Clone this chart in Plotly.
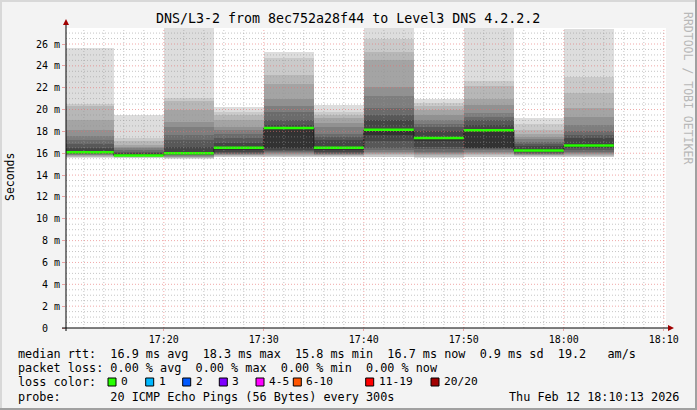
import plotly.graph_objects as go
from datetime import datetime, timedelta

# --- data (ms) ---
bar_end = ["17:15", "17:20", "17:25", "17:30", "17:35", "17:40",
           "17:45", "17:50", "17:55", "18:00", "18:05"]
median_ms = [16.1, 15.8, 16.0, 16.5, 18.3, 16.5, 18.15, 17.4, 18.1, 16.25, 16.7]
# 20 sorted pings per 5-minute step
pings_ms = [
    [15.6, 15.65, 15.7, 15.75, 15.8, 15.85, 15.9, 15.95, 16.0, 16.05, 16.2, 16.5, 16.8, 17.2, 17.6, 18.1, 19.0, 20.3, 20.5, 25.6],
    [15.55, 15.6, 15.65, 15.7, 15.72, 15.75, 15.78, 15.8, 15.82, 15.85, 15.9, 16.0, 16.15, 16.3, 16.45, 16.6, 16.75, 17.1, 17.4, 19.5],
    [15.5, 15.55, 15.6, 15.65, 15.7, 15.75, 15.8, 15.85, 15.9, 15.95, 16.1, 16.6, 17.2, 17.7, 18.4, 18.9, 20.0, 20.8, 21.1, 28.5],
    [15.65, 15.7, 15.75, 15.8, 15.85, 15.9, 15.95, 16.0, 16.1, 16.3, 16.6, 16.9, 17.4, 17.8, 18.1, 18.4, 19.0, 19.5, 19.8, 20.2],
    [15.65, 15.7, 15.75, 15.8, 15.9, 16.0, 16.1, 16.2, 16.3, 16.5, 18.35, 18.6, 19.0, 19.8, 20.3, 21.0, 22.3, 23.2, 24.7, 25.3],
    [15.65, 15.7, 15.75, 15.8, 15.85, 15.9, 15.95, 16.0, 16.1, 16.3, 16.6, 17.2, 17.5, 17.8, 18.4, 18.8, 19.2, 19.5, 19.8, 20.4],
    [15.65, 15.7, 15.8, 15.9, 16.0, 16.15, 16.3, 16.45, 17.1, 17.7, 18.2, 19.0, 19.5, 20.1, 21.2, 22.1, 24.5, 25.3, 26.5, 29.0],
    [15.6, 15.65, 15.7, 15.8, 15.9, 16.0, 16.15, 16.4, 16.6, 17.1, 17.5, 18.0, 18.4, 18.7, 19.0, 19.5, 20.0, 20.3, 20.6, 21.0],
    [15.65, 15.7, 15.8, 15.9, 16.0, 16.15, 16.3, 16.4, 16.45, 16.5, 18.15, 18.6, 19.0, 19.3, 19.65, 20.4, 21.0, 22.2, 22.6, 29.0],
    [15.65, 15.7, 15.75, 15.8, 15.85, 15.9, 15.95, 16.0, 16.1, 16.2, 16.4, 16.65, 16.85, 17.05, 17.3, 17.5, 17.8, 18.1, 18.7, 19.2],
    [15.65, 15.7, 15.75, 15.8, 15.9, 16.0, 16.15, 16.3, 16.5, 16.6, 16.8, 17.4, 17.7, 18.0, 18.6, 19.3, 20.1, 21.5, 23.0, 27.4],
]
loss_labels = ["0", "1", "2", "3", "4-5", "6-10", "11-19", "20/20"]
loss_colors = ["#26ff00", "#00b8ff", "#0059ff", "#7e00ff", "#ff00ff", "#ff5500", "#ff0000", "#a10000"]

title = "DNS/L3-2 from 8ec752a28f44 to Level3 DNS 4.2.2.2"
legend_lines = [
    "median rtt:  16.9 ms avg  18.3 ms max  15.8 ms min  16.7 ms now  0.9 ms sd  19.2   am/s",
    "packet loss: 0.00 % avg  0.00 % max  0.00 % min  0.00 % now",
    "loss color:",
    "probe:       20 ICMP Echo Pings (56 Bytes) every 300s",
]
stamp = "Thu Feb 12 18:10:13 2026"

# --- geometry ---
W, H = 697, 410
L, R, T, B = 66, 31, 28, 82
PW, PH = W - L - R, H - T - B
FONT = "DejaVu Sans Mono"


def px_x(px):
    return (px - L) / PW


def px_y(py):
    return 1 - (py - T) / PH


day = "2026-02-12 "
ends = [datetime.fromisoformat(day + t) for t in bar_end]
step = timedelta(minutes=5)
centers = [e - step / 2 for e in ends]

fig = go.Figure()

# smoke: band i spans ping[i]..ping[19-i], darker towards the middle
half = 10
for i in range(half):
    g = int(190 / half * (half - (i + 1))) + 50
    col = "#%02x%02x%02x" % (g, g, g)
    fig.add_trace(go.Bar(
        x=centers,
        base=[p[i] for p in pings_ms],
        y=[p[19 - i] - p[i] for p in pings_ms],
        width=step.total_seconds() * 1000,
        marker=dict(color=col, line=dict(width=0)),
        hoverinfo="skip", showlegend=False,
    ))

# median: dark step line + green per-step segments
fig.add_trace(go.Scatter(
    x=[e - step for e in ends] + [ends[-1]],
    y=median_ms + [median_ms[-1]],
    mode="lines", line=dict(color="#202020", width=1, shape="hv"),
    hoverinfo="skip", showlegend=False,
))
gx, gy = [], []
for e, m in zip(ends, median_ms):
    gx += [e - step, e, None]
    gy += [m, m, None]
fig.add_trace(go.Scatter(x=gx, y=gy, mode="lines",
                         line=dict(color=loss_colors[0], width=2.5),
                         hoverinfo="skip", showlegend=False))

# grid drawn above the smoke, like rrdtool
shapes = []
minor_c = "rgba(150,150,150,0.55)"
major_c = "rgba(230,110,110,0.6)"
t0 = datetime.fromisoformat(day + "17:10:13")
t1 = datetime.fromisoformat(day + "18:10:13")
t = datetime.fromisoformat(day + "17:12")
while t <= t1:
    major = t.minute % 10 == 0
    shapes.append(dict(type="line", xref="x", yref="paper", x0=t, x1=t, y0=0, y1=1,
                       line=dict(color=major_c if major else minor_c, width=1, dash="1px,2px"),
                       layer="above"))
    t += timedelta(minutes=2)
for k in range(1, 55):
    v = k * 0.5
    major = k % 4 == 0
    shapes.append(dict(type="line", xref="paper", yref="y", x0=0, x1=1, y0=v, y1=v,
                       line=dict(color=major_c if major else minor_c, width=1, dash="1px,2px"),
                       layer="above"))

# axes with arrows
shapes.append(dict(type="line", xref="paper", yref="paper", x0=px_x(62), x1=px_x(669),
                   y0=0, y1=0, line=dict(color="black", width=1), layer="above"))
shapes.append(dict(type="line", xref="paper", yref="paper", x0=0, x1=0,
                   y0=px_y(331), y1=px_y(24), line=dict(color="black", width=1), layer="above"))
shapes.append(dict(type="path", xref="paper", yref="paper", xsizemode="pixel", ysizemode="pixel",
                   xanchor=0, yanchor=px_y(24), path="M -3 -1 L 3 -1 L 0 5 Z",
                   fillcolor="#a00000", line=dict(width=0), layer="above"))
shapes.append(dict(type="path", xref="paper", yref="paper", xsizemode="pixel", ysizemode="pixel",
                   xanchor=px_x(668), yanchor=0, path="M 0 -3 L 0 3 L 6 0 Z",
                   fillcolor="#a00000", line=dict(width=0), layer="above"))

# outer 3d frame
shapes += [
    dict(type="line", xref="paper", yref="paper", x0=px_x(0), x1=px_x(W), y0=px_y(1), y1=px_y(1),
         line=dict(color="#d8d8d8", width=2)),
    dict(type="line", xref="paper", yref="paper", x0=px_x(1), x1=px_x(1), y0=px_y(0), y1=px_y(H),
         line=dict(color="#d8d8d8", width=2)),
    dict(type="line", xref="paper", yref="paper", x0=px_x(0), x1=px_x(W), y0=px_y(H - 1), y1=px_y(H - 1),
         line=dict(color="#a0a0a0", width=2)),
    dict(type="line", xref="paper", yref="paper", x0=px_x(W - 1), x1=px_x(W - 1), y0=px_y(0), y1=px_y(H),
         line=dict(color="#a0a0a0", width=2)),
]

# loss colour boxes
box_x = [108, 145.7, 182.7, 219.3, 256, 293.3, 365.7, 431]
for bx, c in zip(box_x, loss_colors):
    shapes.append(dict(type="rect", xref="paper", yref="paper",
                       x0=px_x(bx), x1=px_x(bx + 8), y0=px_y(386), y1=px_y(378),
                       fillcolor=c, line=dict(color="black", width=1)))

nb = "\u00a0"
ann = [
    dict(text=title, x=px_x(348), y=px_y(19), xanchor="center", yanchor="middle",
         font=dict(size=13.3, color="black")),
    dict(text="Seconds", x=px_x(10), y=px_y(177), textangle=-90, xanchor="center", yanchor="middle",
         font=dict(size=11.5, color="black")),
    dict(text="RRDTOOL / TOBI OETIKER", x=px_x(688), y=px_y(88), textangle=90,
         xanchor="center", yanchor="middle", font=dict(size=11.5, color="#b8b8b8")),
    dict(text=stamp, x=px_x(681), y=px_y(396.5), xanchor="right", yanchor="middle",
         font=dict(size=11.8, color="black")),
]
for k, line in enumerate(legend_lines):
    ann.append(dict(text=line.replace(" ", nb), x=px_x(16), y=px_y(354 + 14.2 * k),
                    xanchor="left", yanchor="middle", font=dict(size=11.8, color="black")))
for bx, lab in zip(box_x, loss_labels):
    ann.append(dict(text=lab, x=px_x(bx + 11), y=px_y(381.7), xanchor="left", yanchor="middle",
                    font=dict(size=11.2, color="black")))
for a in ann:
    a.update(xref="paper", yref="paper", showarrow=False)

y_ticks = list(range(0, 27, 2))
y_text = ["0" + nb * 2] + ["%d m" % v for v in y_ticks[1:]]
x_ticks = ["17:20", "17:30", "17:40", "17:50", "18:00", "18:10"]

fig.update_layout(
    width=W, height=H,
    margin=dict(l=L, r=R, t=T, b=B, pad=0),
    paper_bgcolor="#f3f3f3", plot_bgcolor="white",
    barmode="overlay", bargap=0,
    font=dict(family=FONT, size=10, color="black"),
    shapes=shapes, annotations=ann, showlegend=False,
    xaxis=dict(type="date", range=[t0, t1], showgrid=False, zeroline=False, automargin=False,
               tickvals=[datetime.fromisoformat(day + v) for v in x_ticks], ticktext=x_ticks,
               ticks="outside", ticklen=2, tickcolor="rgba(230,110,110,0.6)",
               tickfont=dict(size=10, family=FONT)),
    yaxis=dict(range=[0, PH / 10.923], showgrid=False, zeroline=False, automargin=False,
               tickvals=y_ticks, ticktext=y_text,
               ticks="outside", ticklen=3, tickcolor="rgba(230,110,110,0.6)",
               tickfont=dict(size=10, family=FONT)),
)

# the page body has a default 8px margin; drop it so the chart sits at 0,0
fig.write_html("out.html", config={"displayModeBar": False, "staticPlot": True},
               post_script="document.body.style.margin='0';")
